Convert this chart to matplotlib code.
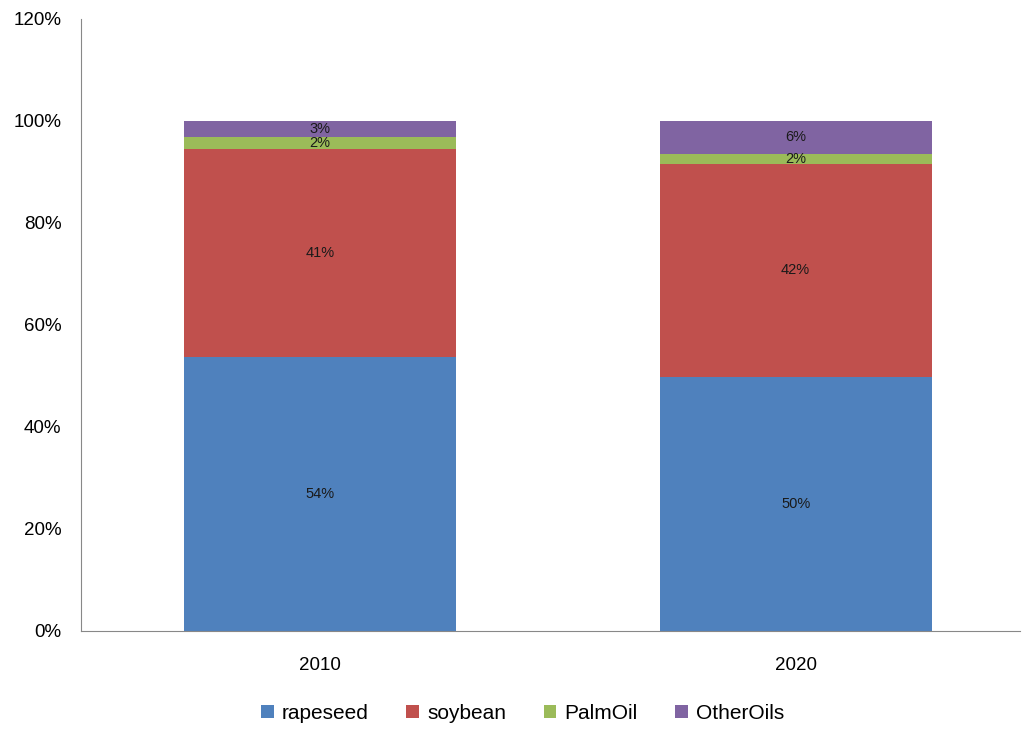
import matplotlib
matplotlib.use("Agg")
import matplotlib.pyplot as plt
import numpy as np

years = ["2010", "2020"]
series = ["rapeseed", "soybean", "PalmOil", "OtherOils"]
rapeseed = [53.7, 49.8]
soybean = [40.8, 41.8]
palm_oil = [2.4, 2.0]
other_oils = [3.1, 6.4]
colors = ["#4F81BD", "#C0504D", "#9BBB59", "#8064A2"]

plt.rcParams['font.family'] = ['Liberation Sans', 'DejaVu Sans']

fig = plt.figure(figsize=(10.23, 7.36), dpi=100)
ax = fig.add_axes([0.0792, 0.1427, 0.918, 0.8315])

x = np.arange(len(years))
bottom = np.zeros(len(years))
for name, vals, c in zip(series, [rapeseed, soybean, palm_oil, other_oils], colors):
    vals = np.array(vals) / 100
    ax.bar(x, vals, 0.572, bottom=bottom, color=c, label=name)
    for xi, b, v in zip(x, bottom, vals):
        ax.text(xi, b + v / 2, f"{v * 100:.0f}%", ha="center", va="center",
                fontsize=10.5, color="#1a1a1a")
    bottom += vals

ax.set_xlim(-0.5026, 1.472)
ax.set_ylim(0, 1.2)
ticks = np.arange(0, 1.21, 0.2)
ax.set_yticks(ticks)
ax.set_yticklabels([f"{int(round(t * 100))}%" for t in ticks])
ax.set_xticks(x)
ax.set_xticklabels(years)
ax.tick_params(length=0, labelsize=13.5)
ax.tick_params(axis="x", pad=19)
ax.tick_params(axis="y", pad=14)
for s in ["top", "right"]:
    ax.spines[s].set_visible(False)
for s in ["left", "bottom"]:
    ax.spines[s].set_color("#888888")

fig.legend(loc="lower center", ncol=4, frameon=False, fontsize=15,
           bbox_to_anchor=(0.511, -0.008), handlelength=0.6, handleheight=0.6,
           handletextpad=0.4, columnspacing=1.8)

fig.savefig("out.png", dpi=100)
